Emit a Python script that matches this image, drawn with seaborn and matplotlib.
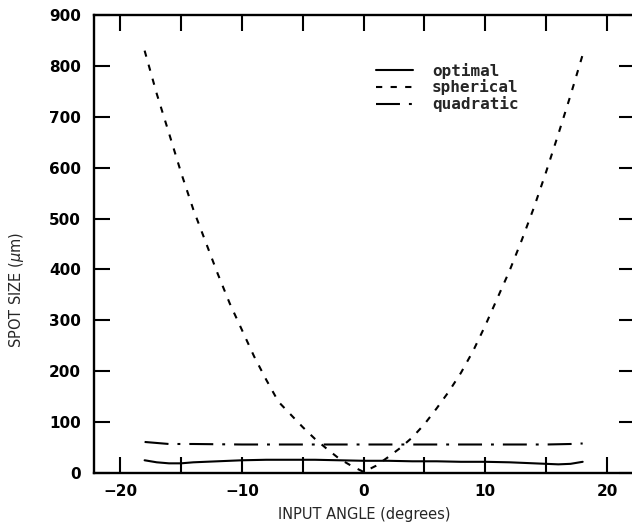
import matplotlib
matplotlib.use("Agg")
import matplotlib.pyplot as plt
import seaborn as sns
import numpy as np
import pandas as pd

# ---- data ----
angle_sph = [-18, -17, -16, -15, -14, -13, -12, -11, -10, -9, -8, -7, -6, -5, -4, -3, -2, -1, 0,
             1, 2, 3, 4, 5, 6, 7, 8, 9, 10, 11, 12, 13, 14, 15, 16, 17, 18]
spherical = [830, 745, 668, 590, 518, 455, 392, 333, 281, 229, 183, 140, 115, 90, 67, 47, 28, 14, 2,
             14, 31, 49, 70, 96, 127, 160, 197, 240, 290, 344, 398, 458, 522, 592, 666, 742, 822]

angle_opt = [-18, -17, -16, -15, -14, -13, -12, -11, -10, -8, -6, -4, -2, 0, 2, 4, 6, 8, 10, 12, 14, 15, 16, 17, 18]
optimal = [25, 21, 19, 19, 21, 22, 23, 24, 25, 26, 26, 26, 25, 24, 24, 23, 23, 22, 22, 21, 19, 18, 17, 18, 22]

angle_quad = [-18, -17, -16, -14, -10, -5, 0, 5, 10, 15, 17, 18]
quadratic = [61, 59, 57, 57, 56, 56, 56, 56, 56, 56, 57, 58]

x_tick_values = [-20, -15, -10, -5, 0, 5, 10, 15, 20]
x_tick_labels = ["\u221220", "", "\u221210", "", "0", "", "10", "", "20"]
y_tick_values = [0, 100, 200, 300, 400, 500, 600, 700, 800, 900]
y_tick_labels = ["0", "100", "200", "300", "400", "500", "600", "700", "800", "900"]

series_names = ["optimal", "spherical", "quadratic"]

# ---- style ----
sns.set_style("white")
plt.rcParams["font.family"] = ["DejaVu Sans"]

fig = plt.figure(figsize=(6.32, 5.28), dpi=100)
ax = fig.add_axes([93.5 / 632, 55 / 528, (635 - 93.5) / 632, 458 / 528])

lw = 1.5
df_opt = pd.DataFrame({"angle": angle_opt, "size": optimal})
df_sph = pd.DataFrame({"angle": angle_sph, "size": spherical})
df_quad = pd.DataFrame({"angle": angle_quad, "size": quadratic})

sns.lineplot(data=df_opt, x="angle", y="size", ax=ax, color="black", linewidth=lw,
             label=series_names[0], linestyle="-")
sns.lineplot(data=df_sph, x="angle", y="size", ax=ax, color="black", linewidth=lw,
             label=series_names[1], linestyle=(0, (3.0, 4.0)))
sns.lineplot(data=df_quad, x="angle", y="size", ax=ax, color="black", linewidth=lw,
             label=series_names[2], linestyle=(0, (11.5, 4.3, 1.4, 4.3)))

ax.set_xlim(-22.2, 22.3)
ax.set_ylim(0, 900)

ax.set_xticks(x_tick_values)
ax.set_xticklabels(x_tick_labels)
ax.set_yticks(y_tick_values)
ax.set_yticklabels(y_tick_labels)

for sp in ax.spines.values():
    sp.set_visible(True)
    sp.set_linewidth(1.7)
    sp.set_color("black")

ax.tick_params(axis="both", which="both", direction="in", length=11.5, width=1.5,
               top=True, right=True, bottom=True, left=True, colors="black")
ax.tick_params(axis="x", pad=8)
ax.tick_params(axis="y", pad=9)
for lab in ax.get_xticklabels() + ax.get_yticklabels():
    lab.set_fontsize(11)
    lab.set_fontweight("bold")

ax.set_xlabel("INPUT ANGLE (degrees)", fontsize=10.5)
ax.set_ylabel(r"SPOT SIZE ($\mu$m)", fontsize=10.5)
ax.xaxis.set_label_coords(0.5, -0.075)
ax.yaxis.set_label_coords(-0.125, 0.40)

leg = ax.legend(loc="upper left", bbox_to_anchor=(0.522, 0.896), frameon=False,
                prop={"family": "DejaVu Sans Mono", "weight": "bold", "size": 11.5},
                handlelength=2.3, handletextpad=1.2, labelspacing=0.05,
                borderpad=0, borderaxespad=0)
for h in leg.get_lines():
    h.set_linewidth(lw)

fig.savefig("out.png", dpi=100, facecolor="white")
